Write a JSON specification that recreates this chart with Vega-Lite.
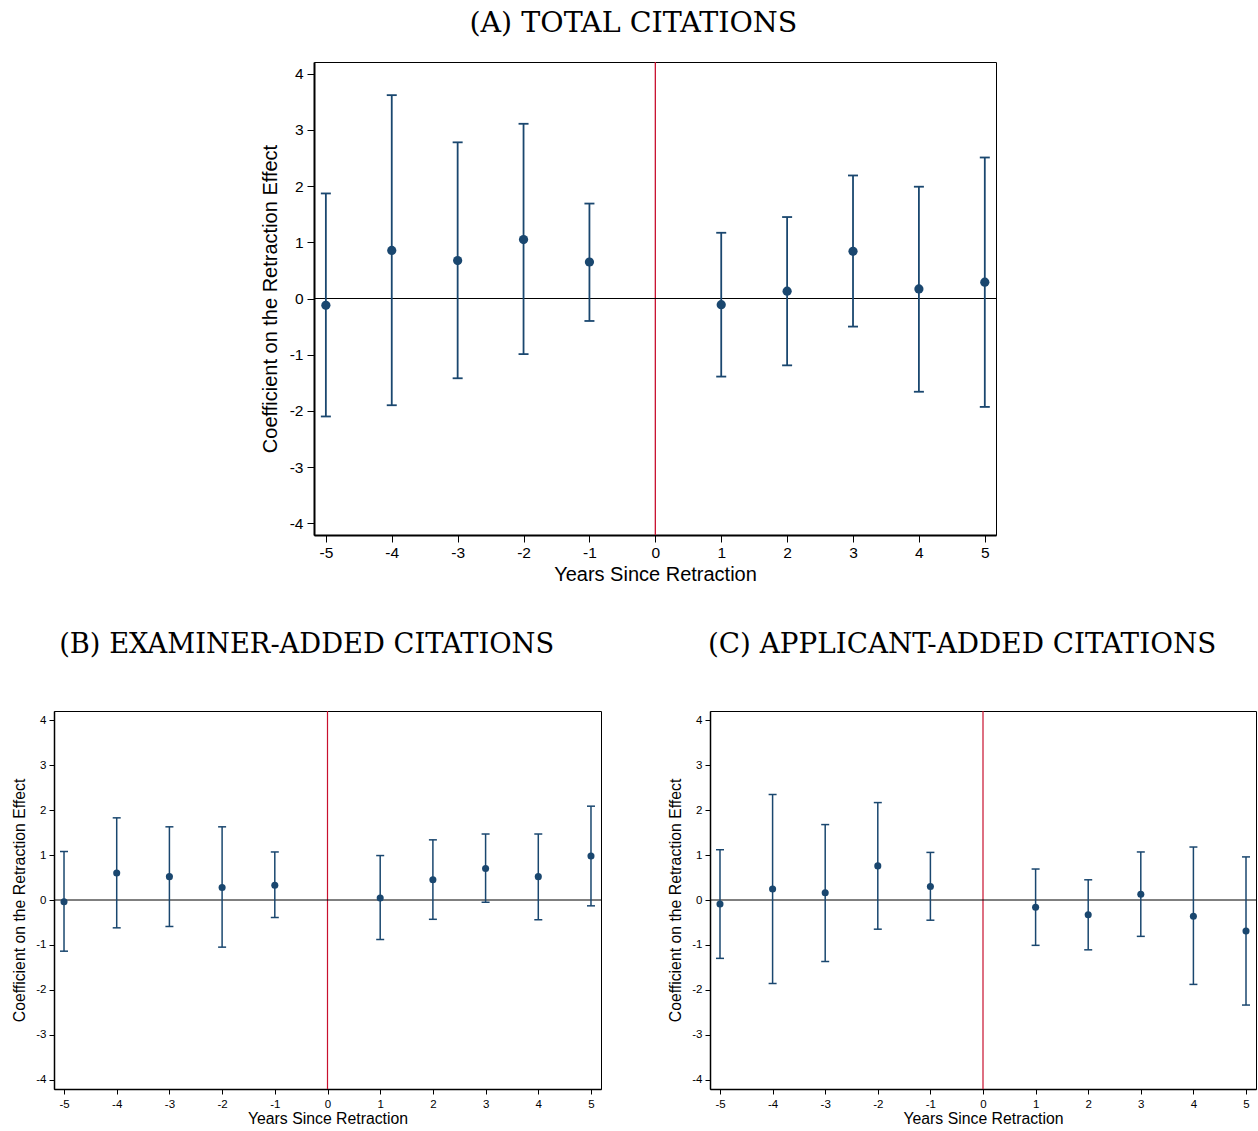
{
  "$schema": "https://vega.github.io/schema/vega-lite/v6.json",
  "padding": {"left": 11, "top": 8, "right": 0, "bottom": 0},
  "background": "white",
  "config": {
    "font": "Liberation Sans",
    "view": {"stroke": "#000", "strokeWidth": 1},
    "axis": {"grid": false, "domainColor": "#000", "domainWidth": 1.5, "tickColor": "#000", "labelColor": "#000", "titleColor": "#000", "titleFontWeight": "normal", "labelFont": "Liberation Sans", "titleFont": "Liberation Sans", "labelExpr": "'' + datum.value"},
    "title": {"font": "DejaVu Serif", "fontWeight": "normal", "color": "#000", "anchor": "middle", "frame": "bounds"}
  },
  "datasets": {
    "total": [
      {"year": -5, "coef": -0.12, "lo": -2.10, "hi": 1.87},
      {"year": -4, "coef": 0.855, "lo": -1.90, "hi": 3.62},
      {"year": -3, "coef": 0.675, "lo": -1.42, "hi": 2.78},
      {"year": -2, "coef": 1.05, "lo": -0.99, "hi": 3.11},
      {"year": -1, "coef": 0.65, "lo": -0.40, "hi": 1.69},
      {"year": 1, "coef": -0.11, "lo": -1.39, "hi": 1.17},
      {"year": 2, "coef": 0.13, "lo": -1.19, "hi": 1.45},
      {"year": 3, "coef": 0.84, "lo": -0.50, "hi": 2.19},
      {"year": 4, "coef": 0.17, "lo": -1.66, "hi": 1.99},
      {"year": 5, "coef": 0.29, "lo": -1.93, "hi": 2.51}
    ],
    "examiner": [
      {"year": -5, "coef": -0.04, "lo": -1.14, "hi": 1.08},
      {"year": -4, "coef": 0.60, "lo": -0.62, "hi": 1.83},
      {"year": -3, "coef": 0.52, "lo": -0.59, "hi": 1.63},
      {"year": -2, "coef": 0.28, "lo": -1.05, "hi": 1.63},
      {"year": -1, "coef": 0.33, "lo": -0.39, "hi": 1.07},
      {"year": 1, "coef": 0.045, "lo": -0.88, "hi": 0.99},
      {"year": 2, "coef": 0.45, "lo": -0.43, "hi": 1.34},
      {"year": 3, "coef": 0.70, "lo": -0.05, "hi": 1.47},
      {"year": 4, "coef": 0.52, "lo": -0.44, "hi": 1.47},
      {"year": 5, "coef": 0.98, "lo": -0.13, "hi": 2.09}
    ],
    "applicant": [
      {"year": -5, "coef": -0.09, "lo": -1.30, "hi": 1.12},
      {"year": -4, "coef": 0.245, "lo": -1.86, "hi": 2.35},
      {"year": -3, "coef": 0.16, "lo": -1.37, "hi": 1.68},
      {"year": -2, "coef": 0.76, "lo": -0.65, "hi": 2.17},
      {"year": -1, "coef": 0.30, "lo": -0.45, "hi": 1.06},
      {"year": 1, "coef": -0.16, "lo": -1.01, "hi": 0.69},
      {"year": 2, "coef": -0.33, "lo": -1.11, "hi": 0.45},
      {"year": 3, "coef": 0.13, "lo": -0.81, "hi": 1.07},
      {"year": 4, "coef": -0.36, "lo": -1.88, "hi": 1.18},
      {"year": 5, "coef": -0.69, "lo": -2.34, "hi": 0.96}
    ]
  },
  "spacing": 45,
  "center": true,
  "vconcat": [
    {
      "title": {"text": "(A) TOTAL CITATIONS", "fontSize": 28.5, "offset": 24, "dx": 5},
      "width": 682,
      "height": 473,
      "data": {"name": "total"},
      "layer": [
        {
          "data": {"values": [{"year": 0}]},
          "mark": {"type": "rule", "color": "#c8102e", "strokeWidth": 1.3},
          "encoding": {
            "x": {"field": "year", "type": "quantitative", "title": "Years Since Retraction", "scale": {"domain": [-5.18, 5.17], "nice": false, "zero": false},
                  "axis": {"values": [-5, -4, -3, -2, -1, 0, 1, 2, 3, 4, 5], "tickSize": 7, "domainWidth": 2, "labelFontSize": 15.5, "titleFontSize": 20, "labelPadding": 3, "titlePadding": 4}}
          }
        },
        {
          "data": {"values": [{"coef": 0}]},
          "mark": {"type": "rule", "color": "#000", "strokeWidth": 1},
          "encoding": {
            "y": {"field": "coef", "type": "quantitative", "title": "Coefficient on the Retraction Effect", "scale": {"domain": [-4.21, 4.21], "nice": false, "zero": false},
                  "axis": {"values": [-4, -3, -2, -1, 0, 1, 2, 3, 4], "tickSize": 7, "domainWidth": 2, "labelFontSize": 15.5, "titleFontSize": 20, "labelPadding": 4, "titlePadding": 9}}
          }
        },
        {
          "mark": {"type": "rule", "color": "#1a476f", "strokeWidth": 1.8},
          "encoding": {
            "x": {"field": "year", "type": "quantitative", "title": "Years Since Retraction"},
            "y": {"field": "lo", "type": "quantitative", "title": "Coefficient on the Retraction Effect"},
            "y2": {"field": "hi"}
          }
        },
        {
          "transform": [{"fold": ["lo", "hi"], "as": ["bound", "value"]}],
          "mark": {"type": "tick", "orient": "horizontal", "color": "#1a476f", "size": 10, "thickness": 1.8, "opacity": 1},
          "encoding": {
            "x": {"field": "year", "type": "quantitative", "title": "Years Since Retraction"},
            "y": {"field": "value", "type": "quantitative", "title": "Coefficient on the Retraction Effect"}
          }
        },
        {
          "mark": {"type": "point", "filled": true, "shape": "circle", "size": 85, "color": "#1a476f", "opacity": 1},
          "encoding": {
            "x": {"field": "year", "type": "quantitative", "title": "Years Since Retraction"},
            "y": {"field": "coef", "type": "quantitative", "title": "Coefficient on the Retraction Effect"}
          }
        }
      ]
    },
    {
      "spacing": 65,
      "hconcat": [
        {
          "title": {"text": "(B) EXAMINER-ADDED CITATIONS", "fontSize": 27.3, "offset": 52},
          "width": 547,
          "height": 378,
          "data": {"name": "examiner"},
          "layer": [
            {
              "data": {"values": [{"year": 0}]},
              "mark": {"type": "rule", "color": "#c8102e", "strokeWidth": 1.2},
              "encoding": {
                "x": {"field": "year", "type": "quantitative", "title": "Years Since Retraction", "scale": {"domain": [-5.19, 5.19], "nice": false, "zero": false},
                      "axis": {"values": [-5, -4, -3, -2, -1, 0, 1, 2, 3, 4, 5], "tickSize": 5, "labelFontSize": 11.5, "titleFontSize": 15.8, "labelPadding": 4, "titlePadding": 2}}
              }
            },
            {
              "data": {"values": [{"coef": 0}]},
              "mark": {"type": "rule", "color": "#000", "strokeWidth": 1},
              "encoding": {
                "y": {"field": "coef", "type": "quantitative", "title": "Coefficient on the Retraction Effect", "scale": {"domain": [-4.21, 4.21], "nice": false, "zero": false},
                      "axis": {"values": [-4, -3, -2, -1, 0, 1, 2, 3, 4], "tickSize": 5, "labelFontSize": 11.5, "titleFontSize": 15.8, "labelPadding": 3, "titlePadding": 8}}
              }
            },
            {
              "mark": {"type": "rule", "color": "#1a476f", "strokeWidth": 1.5},
              "encoding": {
                "x": {"field": "year", "type": "quantitative", "title": "Years Since Retraction"},
                "y": {"field": "lo", "type": "quantitative", "title": "Coefficient on the Retraction Effect"},
                "y2": {"field": "hi"}
              }
            },
            {
              "transform": [{"fold": ["lo", "hi"], "as": ["bound", "value"]}],
              "mark": {"type": "tick", "orient": "horizontal", "color": "#1a476f", "size": 8, "thickness": 1.5, "opacity": 1},
              "encoding": {
                "x": {"field": "year", "type": "quantitative", "title": "Years Since Retraction"},
                "y": {"field": "value", "type": "quantitative", "title": "Coefficient on the Retraction Effect"}
              }
            },
            {
              "mark": {"type": "point", "filled": true, "shape": "circle", "size": 50, "color": "#1a476f", "opacity": 1},
              "encoding": {
                "x": {"field": "year", "type": "quantitative", "title": "Years Since Retraction"},
                "y": {"field": "coef", "type": "quantitative", "title": "Coefficient on the Retraction Effect"}
              }
            }
          ]
        },
        {
          "title": {"text": "(C) APPLICANT-ADDED CITATIONS", "fontSize": 27.8, "offset": 52},
          "width": 546,
          "height": 378,
          "data": {"name": "applicant"},
          "layer": [
            {
              "data": {"values": [{"year": 0}]},
              "mark": {"type": "rule", "color": "#c8102e", "strokeWidth": 1.2},
              "encoding": {
                "x": {"field": "year", "type": "quantitative", "title": "Years Since Retraction", "scale": {"domain": [-5.19, 5.19], "nice": false, "zero": false},
                      "axis": {"values": [-5, -4, -3, -2, -1, 0, 1, 2, 3, 4, 5], "tickSize": 5, "labelFontSize": 11.5, "titleFontSize": 15.8, "labelPadding": 4, "titlePadding": 2}}
              }
            },
            {
              "data": {"values": [{"coef": 0}]},
              "mark": {"type": "rule", "color": "#000", "strokeWidth": 1},
              "encoding": {
                "y": {"field": "coef", "type": "quantitative", "title": "Coefficient on the Retraction Effect", "scale": {"domain": [-4.21, 4.21], "nice": false, "zero": false},
                      "axis": {"values": [-4, -3, -2, -1, 0, 1, 2, 3, 4], "tickSize": 5, "labelFontSize": 11.5, "titleFontSize": 15.8, "labelPadding": 3, "titlePadding": 8}}
              }
            },
            {
              "mark": {"type": "rule", "color": "#1a476f", "strokeWidth": 1.5},
              "encoding": {
                "x": {"field": "year", "type": "quantitative", "title": "Years Since Retraction"},
                "y": {"field": "lo", "type": "quantitative", "title": "Coefficient on the Retraction Effect"},
                "y2": {"field": "hi"}
              }
            },
            {
              "transform": [{"fold": ["lo", "hi"], "as": ["bound", "value"]}],
              "mark": {"type": "tick", "orient": "horizontal", "color": "#1a476f", "size": 8, "thickness": 1.5, "opacity": 1},
              "encoding": {
                "x": {"field": "year", "type": "quantitative", "title": "Years Since Retraction"},
                "y": {"field": "value", "type": "quantitative", "title": "Coefficient on the Retraction Effect"}
              }
            },
            {
              "mark": {"type": "point", "filled": true, "shape": "circle", "size": 50, "color": "#1a476f", "opacity": 1},
              "encoding": {
                "x": {"field": "year", "type": "quantitative", "title": "Years Since Retraction"},
                "y": {"field": "coef", "type": "quantitative", "title": "Coefficient on the Retraction Effect"}
              }
            }
          ]
        }
      ]
    }
  ]
}
